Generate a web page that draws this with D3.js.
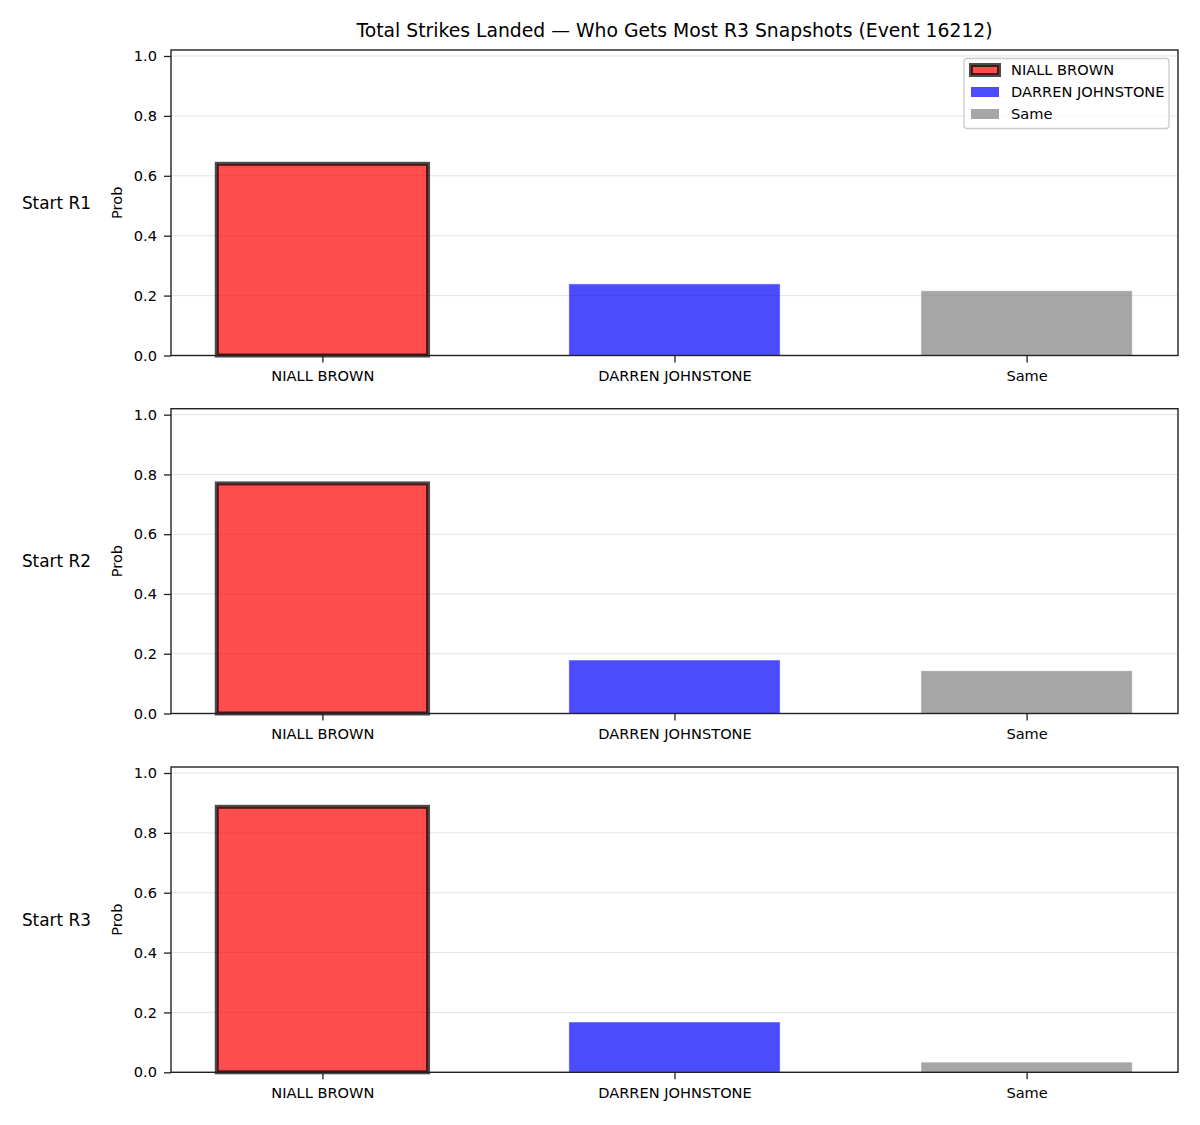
<!DOCTYPE html>
<html><head><meta charset="utf-8">
<script src="https://cdn.jsdelivr.net/npm/d3@7"></script>
<style>
body{margin:0;background:#fff;}
text{font-family:"DejaVu Sans",sans-serif;fill:#000;}
</style></head>
<body><svg id="c" width="1200" height="1125"></svg>
<script>
const title = "Total Strikes Landed — Who Gets Most R3 Snapshots (Event 16212)";
const categories = ["NIALL BROWN", "DARREN JOHNSTONE", "Same"];
const rowLabels = ["Start R1", "Start R2", "Start R3"];
const niallBrown = [0.64, 0.77, 0.887];
const darrenJohnstone = [0.239, 0.179, 0.168];
const same = [0.216, 0.143, 0.034];
const yTickValues = [0.0, 0.2, 0.4, 0.6, 0.8, 1.0];
const barColors = ["#ff0000", "#0000ff", "#808080"];

const svg = d3.select("#c");
svg.append("rect").attr("width",1200).attr("height",1125).attr("fill","#fff");

svg.append("text").attr("x",674.5).attr("y",37).attr("text-anchor","middle")
  .style("font-size","18.8px").text(title);

const left = 171, right = 1178;
const panels = [{top:50, bottom:355.5},{top:408.7, bottom:713.5},{top:767, bottom:1072.3}];
const x = d3.scaleLinear().domain([-0.43, 2.43]).range([left, right]);
const barW = 0.6;
const tickFont = "14.6px";

panels.forEach((p, i) => {
  const vals = [niallBrown[i], darrenJohnstone[i], same[i]];
  const y = d3.scaleLinear().domain([0, 1.02]).range([p.bottom, p.top]);
  const g = svg.append("g");

  // grid
  g.selectAll("line.grid").data(yTickValues).enter().append("line")
    .attr("x1",left).attr("x2",right).attr("y1",d=>y(d)).attr("y2",d=>y(d))
    .attr("stroke","#b0b0b0").attr("stroke-opacity",0.35).attr("stroke-width",1);

  // bars
  g.selectAll("rect.bar").data(vals).enter().append("rect")
    .attr("x",(d,j)=>x(j-barW/2)).attr("width",x(barW)-x(0))
    .attr("y",d=>y(d)).attr("height",d=>y(0)-y(d))
    .attr("fill",(d,j)=>barColors[j]).attr("fill-opacity",0.7)
    .attr("stroke",(d,j)=>j===0?"#000":"#fff")
    .attr("stroke-opacity",(d,j)=>j===0?0.7:0.6)
    .attr("stroke-width",(d,j)=>j===0?4:0.8);

  // axes
  const ya = d3.axisLeft(y).tickValues(yTickValues).tickFormat(d3.format(".1f")).tickSize(7).tickPadding(7);
  const yg = g.append("g").attr("transform",`translate(${left},0)`).call(ya);
  const xa = d3.axisBottom(x).tickValues([0,1,2]).tickFormat(j=>categories[j]).tickSize(7).tickPadding(6);
  const xg = g.append("g").attr("transform",`translate(0,${p.bottom})`).call(xa);
  [yg,xg].forEach(a=>{
    a.select(".domain").remove();
    a.selectAll(".tick line").attr("stroke","#222").attr("stroke-width",1.3);
    a.selectAll(".tick text").style("font-size",tickFont).attr("fill","#000");
  });
  xg.selectAll(".tick text").attr("dy","0.85em");

  // spines
  g.append("rect").attr("x",left).attr("y",p.top).attr("width",right-left).attr("height",p.bottom-p.top)
    .attr("fill","none").attr("stroke","#222").attr("stroke-width",1.4);

  // y label
  const mid = (p.top+p.bottom)/2;
  g.append("text").attr("transform",`translate(122,${mid}) rotate(-90)`).attr("text-anchor","middle")
    .style("font-size",tickFont).text("Prob");
  g.append("text").attr("x",91).attr("y",mid).attr("dy","0.35em").attr("text-anchor","end")
    .style("font-size","16.9px").text(rowLabels[i]);

  if (i === 0) {
    const lg = g.append("g");
    lg.append("rect").attr("x",964).attr("y",58.5).attr("width",205).attr("height",70).attr("rx",3)
      .attr("fill","#fff").attr("fill-opacity",0.8).attr("stroke","#ccc").attr("stroke-width",1.3);
    categories.forEach((c,j)=>{
      const cy = 70 + j*22;
      lg.append("rect").attr("x",971).attr("y",cy-5).attr("width",28).attr("height",10)
        .attr("fill",barColors[j]).attr("fill-opacity",0.7)
        .attr("stroke",j===0?"#000":"none").attr("stroke-opacity",0.7).attr("stroke-width",j===0?4:0);
      lg.append("text").attr("x",1011).attr("y",cy).attr("dy","0.35em").style("font-size",tickFont).text(c);
    });
  }
});
</script></body></html>
